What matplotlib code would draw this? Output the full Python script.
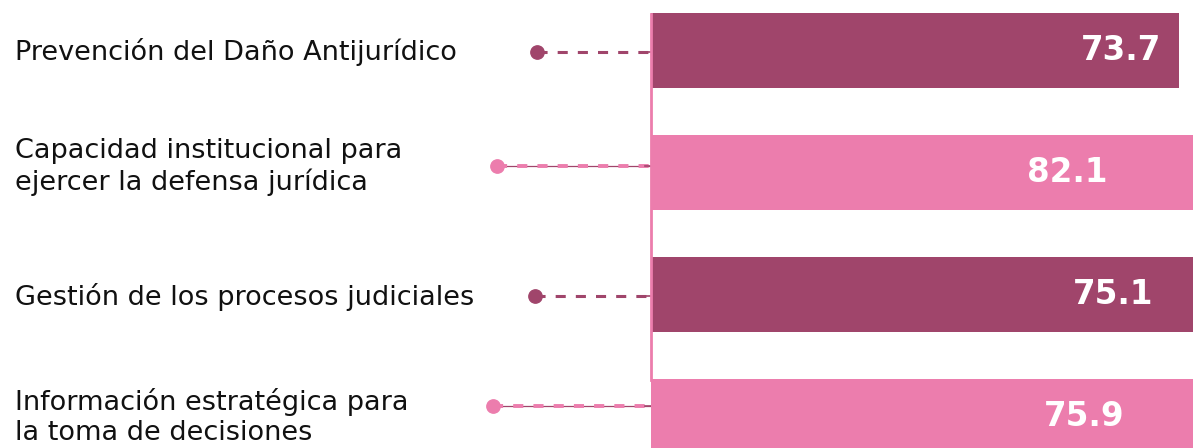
import matplotlib
matplotlib.use("Agg")
import matplotlib.pyplot as plt
import matplotlib.transforms as mtransforms

categories = [
    "Prevención del Daño Antijurídico",
    "Capacidad institucional para\nejercer la defensa jurídica",
    "Gestión de los procesos judiciales",
    "Información estratégica para\nla toma de decisiones",
]
values = [73.7, 82.1, 75.1, 75.9]
value_labels = ["73.7", "82.1", "75.1", "75.9"]

DARK = "#a0456b"
PINK = "#ec7dad"
bar_colors = [DARK, PINK, DARK, PINK]

W, H, DPI = 1193, 448, 100
fig = plt.figure(figsize=(W / DPI, H / DPI), dpi=DPI)
fig.patch.set_facecolor("white")

ax = fig.add_axes([651 / W, 0, (W - 651) / W, 1])
ypos = list(range(len(categories)))
ax.barh(ypos, values, height=0.615, color=bar_colors, zorder=2)
ax.set_xlim(20, 75.13)
ax.set_ylim(3.258, -0.414)

# axis styling: only a pink left spine with small dark ticks
for side in ("top", "right", "bottom"):
    ax.spines[side].set_visible(False)
ax.spines["left"].set_color(PINK)
ax.spines["left"].set_linewidth(2)
ax.spines["left"].set_bounds(-0.30, 2.7)
ax.set_xticks([])
ax.set_yticks([])

# value labels (offsets in points from the bar end)
label_shift = [-42, -140, -57, -84]
for y, v, txt, dx in zip(ypos, values, value_labels, label_shift):
    ax.annotate(txt, xy=(v, y), xytext=(dx, 0), textcoords="offset points",
                ha="center", va="center", color="white", fontsize=23.5,
                fontweight="bold", family=["DejaVu Sans"],
                zorder=3, annotation_clip=False)

# leader lines, dots and category labels left of the axis
trans = mtransforms.blended_transform_factory(fig.transFigure, ax.transData)
px = 1 / 122.0  # one pixel in y data units
dot_x = [537 / W, 497 / W, 535 / W, 493 / W]
lead_dy = [1.5, -6.5, 1.0, -10.5]
text_dy = [1.5, -5.5, 2.0, 0.0]
axis_x = 651 / W
for i, (y, c) in enumerate(zip(ypos, bar_colors)):
    yy = y + lead_dy[i] * px
    if c == DARK:
        ax.plot([dot_x[i], axis_x], [yy, yy], transform=trans, color=DARK,
                lw=2.2, dashes=(3.3, 3.3), dash_capstyle="butt",
                clip_on=False, zorder=1)
        ax.plot([dot_x[i]], [yy], "o", transform=trans, color=DARK, ms=9.6,
                clip_on=False, zorder=4)
    else:
        ax.plot([dot_x[i], axis_x], [yy, yy], transform=trans, color=DARK,
                lw=0.9, clip_on=False, zorder=1)
        ax.plot([dot_x[i], axis_x], [yy, yy], transform=trans, color=PINK,
                lw=2.8, dashes=(2.6, 2.6), dash_capstyle="butt",
                clip_on=False, zorder=1)
        ax.plot([dot_x[i]], [yy], "o", transform=trans, color=PINK, ms=9.6,
                clip_on=False, zorder=4)
    # short dark tick at the axis
    ax.plot([645 / W, axis_x], [yy, yy], transform=trans, color=DARK,
            lw=1.2, clip_on=False, zorder=1)
    ax.text(15 / W, y + text_dy[i] * px, categories[i], transform=trans,
            ha="left", va="center", fontsize=19.5, color="#111111",
            family=["DejaVu Sans"], linespacing=1.2)

fig.savefig("out.png", dpi=DPI, facecolor="white")
